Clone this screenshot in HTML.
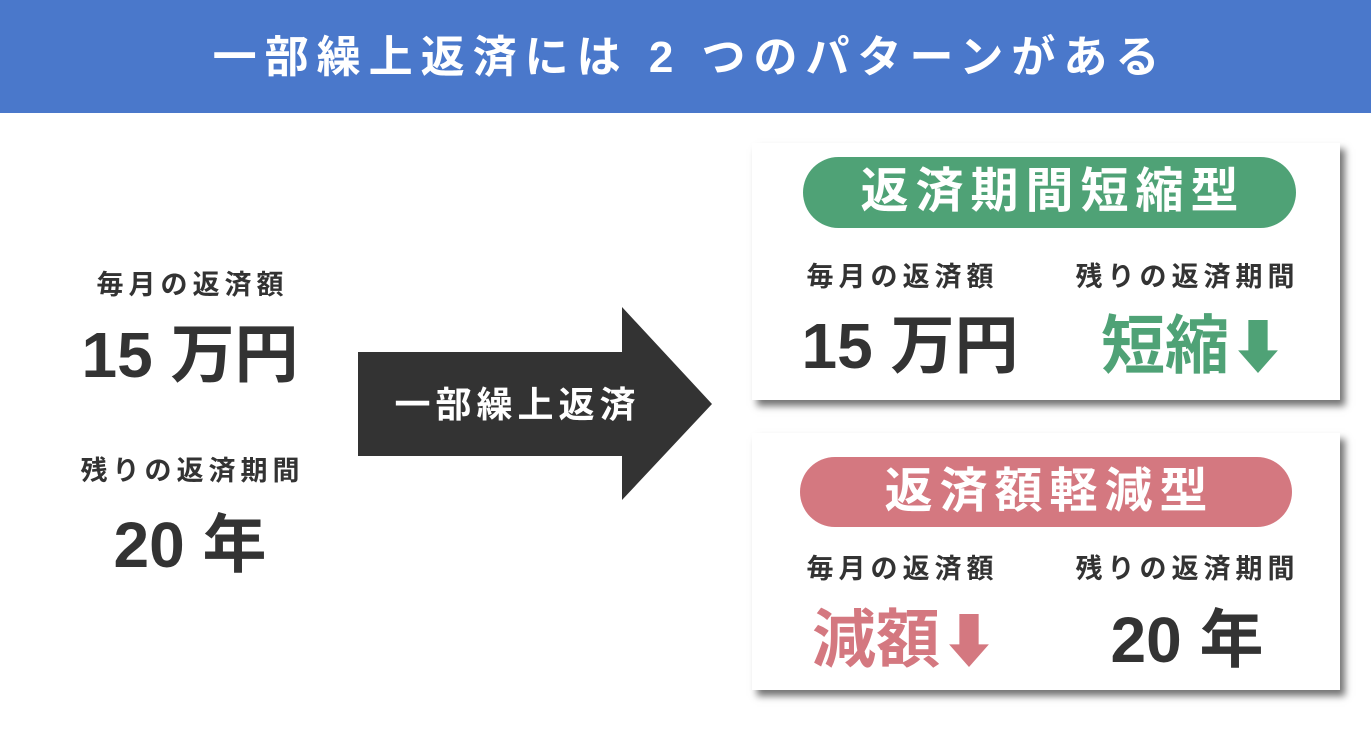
<!DOCTYPE html>
<html><head><meta charset="utf-8"><style>
body{margin:0;width:1371px;height:729px;background:#fff;position:relative;overflow:hidden;font-family:"Liberation Sans","Noto Sans CJK JP",sans-serif;font-weight:bold;color:#333}
.a{position:absolute;white-space:nowrap;text-align:center;transform:translateX(-50%)}
.hdr{position:absolute;left:0;top:0;width:1371px;height:113px;background:#4a78cb}
.card{position:absolute;background:#fff;box-shadow:5px 6px 7px rgba(0,0,0,.55)}
.pill{position:absolute;border-radius:36px;color:#fff;font-size:48px;letter-spacing:7px;text-indent:7px;line-height:70px;text-align:center}
.lbl{font-size:27px;line-height:30px;letter-spacing:5px;padding-left:5px}
.big{font-size:64px;line-height:70px}
</style></head><body>
<div class="hdr"></div>
<div class="a" style="left:686px;top:30px;color:#fff;font-size:44px;letter-spacing:8px;padding-left:8px;line-height:56px">一部繰上返済には 2 つのパターンがある</div>

<div class="a lbl" style="left:190px;top:270px">毎月の返済額</div>
<div class="a big" style="left:190px;top:320px">15 万円</div>
<div class="a lbl" style="left:190px;top:456px">残りの返済期間</div>
<div class="a big" style="left:190px;top:510px">20 年</div>

<svg style="position:absolute;left:0;top:0" width="1371" height="729"><polygon points="358,352 622,352 622,307 712,404 622,500 622,456 358,456" fill="#333"/></svg>
<div class="a" style="left:515px;top:385px;color:#fff;font-size:36px;letter-spacing:5px;padding-left:5px;line-height:40px">一部繰上返済</div>

<div class="card" style="left:752px;top:143px;width:588px;height:257px"></div>
<div class="pill" style="left:803px;top:157px;width:493px;height:71px;background:#4fa276">返済期間短縮型</div>
<div class="a lbl" style="left:900px;top:262px">毎月の返済額</div>
<div class="a lbl" style="left:1185px;top:262px">残りの返済期間</div>
<div class="a big" style="left:910px;top:311px">15 万円</div>
<div class="a big" style="left:1194px;top:311px;color:#4fa276">短縮<span style="font-size:58px">⬇</span></div>

<div class="card" style="left:752px;top:433px;width:588px;height:257px"></div>
<div class="pill" style="left:800px;top:457px;width:492px;height:70px;background:#d47880">返済額軽減型</div>
<div class="a lbl" style="left:900px;top:554px">毎月の返済額</div>
<div class="a lbl" style="left:1185px;top:554px">残りの返済期間</div>
<div class="a big" style="left:905px;top:605px;color:#d47880">減額<span style="font-size:58px">⬇</span></div>
<div class="a big" style="left:1187px;top:605px">20 年</div>
</body></html>
